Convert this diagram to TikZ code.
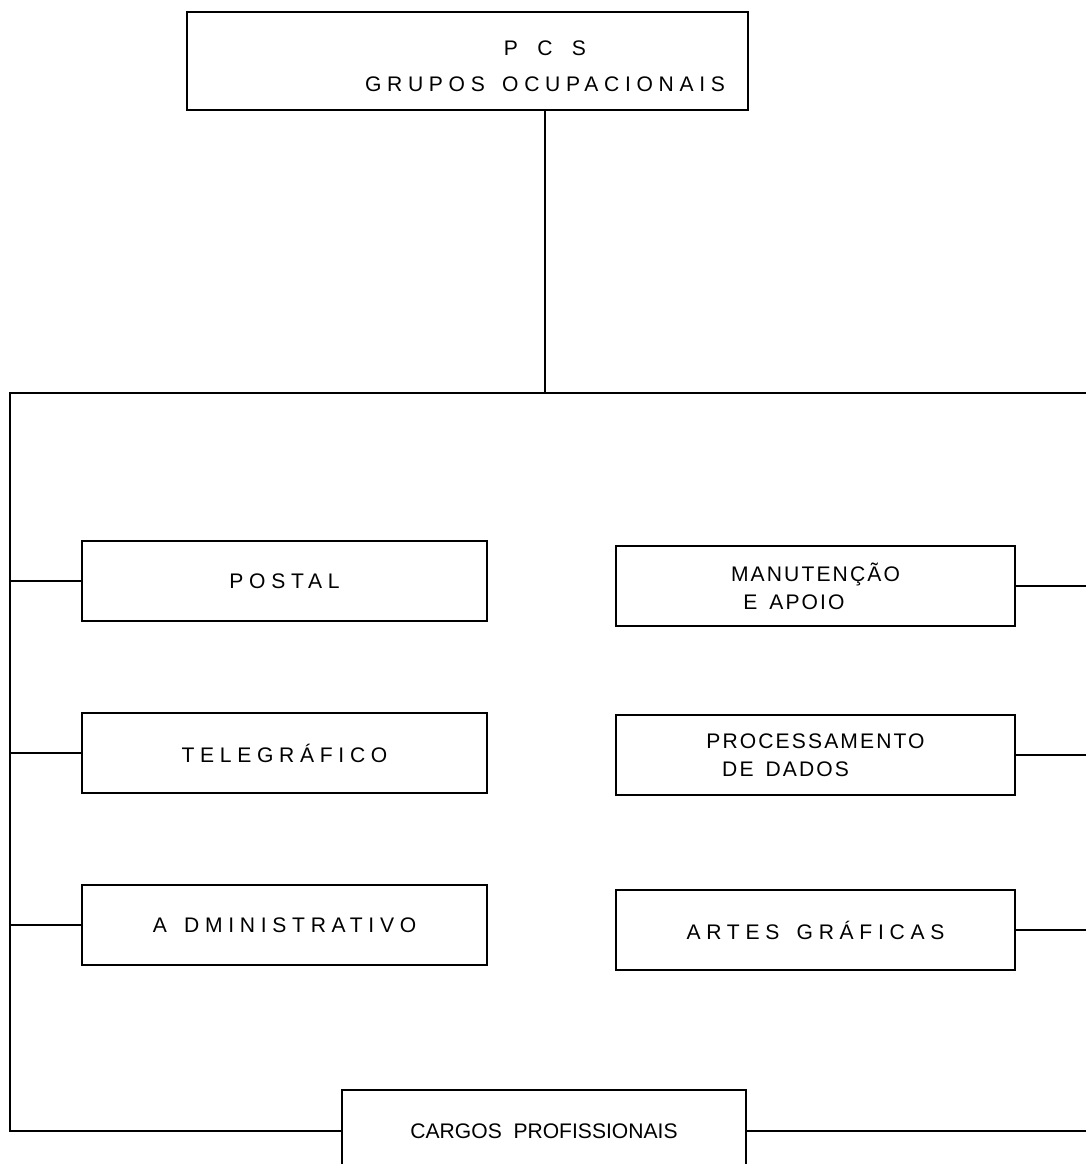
\documentclass[tikz,border=0pt]{standalone}
\usepackage{fontspec}
\setmainfont{Liberation Sans}
\newfontfamily\spaced[LetterSpace=27,WordSpace=1.5]{Liberation Sans}
\newfontfamily\medio[LetterSpace=10,WordSpace=1.5]{Liberation Sans}
\newfontfamily\narrow[LetterSpace=0,WordSpace=2]{Liberation Sans}
\usepackage{tikz}

\tikzset{
  caixa/.style={draw, line width=0.9pt, minimum height=1.6cm, font=\spaced\fontsize{12}{16}\selectfont, align=center},
  linha/.style={line width=0.9pt}
}

\begin{document}
\begin{tikzpicture}
      \useasboundingbox (0,0) rectangle (21.72,-23.28);
      \node[draw, line width=0.9pt, minimum width=11.22cm, minimum height=1.96cm] (pcs) at (9.35,-1.22) {};
      \node[font=\spaced\fontsize{12}{16}\selectfont, align=center] (pcstext) at (10.9,-1.32) {P\hspace{11pt}C\hspace{11pt}S\hspace{8pt}\\[4.5pt]GRUPOS OCUPACIONAIS};
      \coordinate (L) at (0.2,-7.86);
      \coordinate (R) at (21.72,-7.86);
        % left column
      \node[caixa, minimum width=8.1cm] (postal) at (5.69,-11.62) {POSTAL};
      \node[caixa, minimum width=8.1cm] (teleg) at (5.69,-15.06) {TELEGRÁFICO};
      \node[caixa, minimum width=8.1cm] (admin) at (5.69,-18.5) {A DMINISTRATIVO};
        % right column
      \node[caixa, minimum width=7.98cm, align=left, font=\medio\fontsize{12}{16}\selectfont] (manut) at (16.31,-11.72) {MANUTENÇÃO\\\hspace*{7pt}E APOIO};
      \node[caixa, minimum width=7.98cm, align=left, font=\medio\fontsize{12}{16}\selectfont] (proc) at (16.31,-15.1) {PROCESSAMENTO\\\hspace*{9pt}DE DADOS};
      \node[caixa, minimum width=7.98cm] (artes) at (16.31,-18.6) {ARTES GRÁFICAS};
      \node[caixa, minimum width=8.08cm, minimum height=1.64cm, font=\narrow\fontsize{12}{16}\selectfont] (cargos) at (10.88,-22.62) {CARGOS PROFISSIONAIS};
      \draw[linha] (pcstext |- pcs.south) -- (pcstext |- L);
      \draw[linha] (R) -- (L) |- (cargos.west);
      \draw[linha] (cargos.east) -- (cargos.east -| R);
      \draw[linha] (L |- postal) -- (postal);
      \draw[linha] (L |- teleg) -- (teleg);
      \draw[linha] (L |- admin) -- (admin);
      \draw[linha] (manut) -- (manut -| R);
      \draw[linha] (proc) -- (proc -| R);
      \draw[linha] (artes) -- (artes -| R);
\end{tikzpicture}
\end{document}
